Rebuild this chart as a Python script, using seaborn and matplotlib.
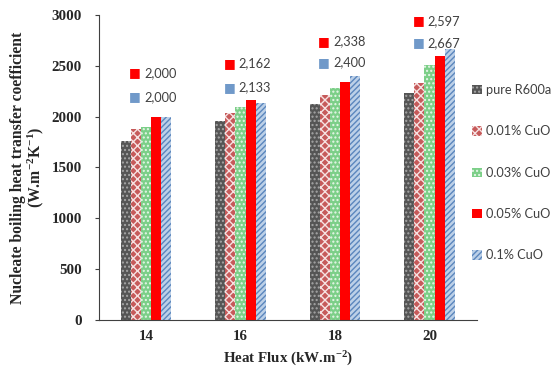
import matplotlib
matplotlib.use("Agg")
import matplotlib.pyplot as plt
import seaborn as sns
import pandas as pd
from matplotlib.patches import Patch

heat_flux = ["14", "16", "18", "20"]
series = ["pure R600a", "0.01% CuO", "0.03% CuO", "0.05% CuO", "0.1% CuO"]
pure = [1760, 1960, 2125, 2235]
cuo_001 = [1875, 2040, 2210, 2335]
cuo_003 = [1900, 2090, 2285, 2505]
cuo_005 = [2000, 2162, 2338, 2597]
cuo_01 = [2000, 2133, 2400, 2667]
labelled_series = ["0.05% CuO", "0.1% CuO"]

values = [pure, cuo_001, cuo_003, cuo_005, cuo_01]
rows = []
for s, vals in zip(series, values):
    for hf, v in zip(heat_flux, vals):
        rows.append({"Heat Flux": hf, "Series": s, "h": v})
df = pd.DataFrame(rows)

sns.set_style("white")
plt.rcParams["hatch.linewidth"] = 1.0
plt.rcParams["mathtext.fontset"] = "custom"
plt.rcParams["mathtext.rm"] = "Liberation Serif:bold"
plt.rcParams["mathtext.it"] = "Liberation Serif:bold"
plt.rcParams["mathtext.bf"] = "Liberation Serif:bold"
plt.rcParams["axes.unicode_minus"] = False

fig = plt.figure(figsize=(5.55, 3.73), dpi=100)
ax = fig.add_axes([0.178, 0.142, 0.681, 0.818])

styles = {
    "pure R600a": dict(fc="#555555", hc="#a6a6a6", hatch="...."),
    "0.01% CuO": dict(fc="#c65a5a", hc="#f6e2e2", hatch="xxxx"),
    "0.03% CuO": dict(fc="#7ccf88", hc="#e8f6ea", hatch="...."),
    "0.05% CuO": dict(fc="#ff0000", hc="#ff0000", hatch=None),
    "0.1% CuO": dict(fc="#bcd0e8", hc="#5b86bd", hatch="//////"),
}
key_colors = {"0.05% CuO": "#ff0000", "0.1% CuO": "#7099c9"}

sns.barplot(data=df, x="Heat Flux", y="h", hue="Series", hue_order=series,
            order=heat_flux, width=0.536, ax=ax, legend=False, errorbar=None,
            saturation=1)

for cont, s in zip(ax.containers, series):
    st = styles[s]
    for bar in cont:
        bar.set_facecolor(st["fc"])
        bar.set_edgecolor(st["hc"])
        bar.set_linewidth(0)
        if st["hatch"]:
            bar.set_hatch(st["hatch"])

# data labels (vertical offsets in points above each bar top, as placed in the original)
label_offsets = {"0.05% CuO": [31.5, 26.6, 29.5, 25.2],
                 "0.1% CuO": [14.2, 11.5, 10.0, 4.3]}
for cont, s in zip(ax.containers, series):
    if s not in labelled_series:
        continue
    for i, bar in enumerate(cont):
        v = bar.get_height()
        txt = f"{int(round(v)):,}"
        dy = label_offsets[s][i]
        ax.annotate(txt, xy=(i, v), xytext=(-1.4, dy), textcoords="offset points",
                    ha="left", va="center", fontsize=9.2, color="#404040",
                    family="Lato", annotation_clip=False)
        ax.annotate("\u25A0", xy=(i, v), xytext=(-8.0, dy), textcoords="offset points",
                    ha="center", va="center", fontsize=9, color=key_colors[s],
                    family="DejaVu Sans", annotation_clip=False)

ax.set_ylim(0, 3000)
ax.set_xlim(-0.5, 3.5)
ax.set_yticks([0, 500, 1000, 1500, 2000, 2500, 3000])
ax.set_xticks(range(4))
ax.set_xticks([-0.5, 0.5, 1.5, 2.5, 3.5], minor=True)
ax.tick_params(axis="x", which="major", length=0, pad=7)
ax.tick_params(axis="x", which="minor", length=4, width=0.8, direction="out", color="#404040")
ax.tick_params(axis="y", length=3, width=0.8, direction="out", color="#404040", left=True, pad=9)
for lab in ax.get_xticklabels() + ax.get_yticklabels():
    lab.set_fontfamily("Liberation Serif")
    lab.set_fontweight("bold")
    lab.set_fontsize(10.8)
    lab.set_color("#262626")

for sp in ["top", "right"]:
    ax.spines[sp].set_visible(False)
for sp in ["left", "bottom"]:
    ax.spines[sp].set_color("#404040")
    ax.spines[sp].set_linewidth(0.8)

ax.set_xlabel("Heat Flux (kW.m$^{-2}$)", fontfamily="Liberation Serif",
              fontweight="bold", fontsize=10.8, labelpad=5, color="#262626")
ax.set_ylabel("Nucleate boiling heat transfer coefficient\n(W.m$^{-2}$K$^{-1}$)",
              fontfamily="Liberation Serif", fontweight="bold", fontsize=11.3,
              labelpad=4, linespacing=1.0, color="#262626")

handles = []
for s in series:
    st = styles[s]
    handles.append(Patch(facecolor=st["fc"], edgecolor=st["hc"], hatch=st["hatch"],
                         linewidth=0, label=s))
fig.legend(handles=handles, loc="center left", bbox_to_anchor=(0.83, 0.537),
           frameon=False, handlelength=0.75, handleheight=0.75,
           handletextpad=0.3, labelspacing=2.3,
           prop={"family": "Lato", "size": 9.2}, labelcolor="#404040")

fig.savefig("out.png", dpi=100)
